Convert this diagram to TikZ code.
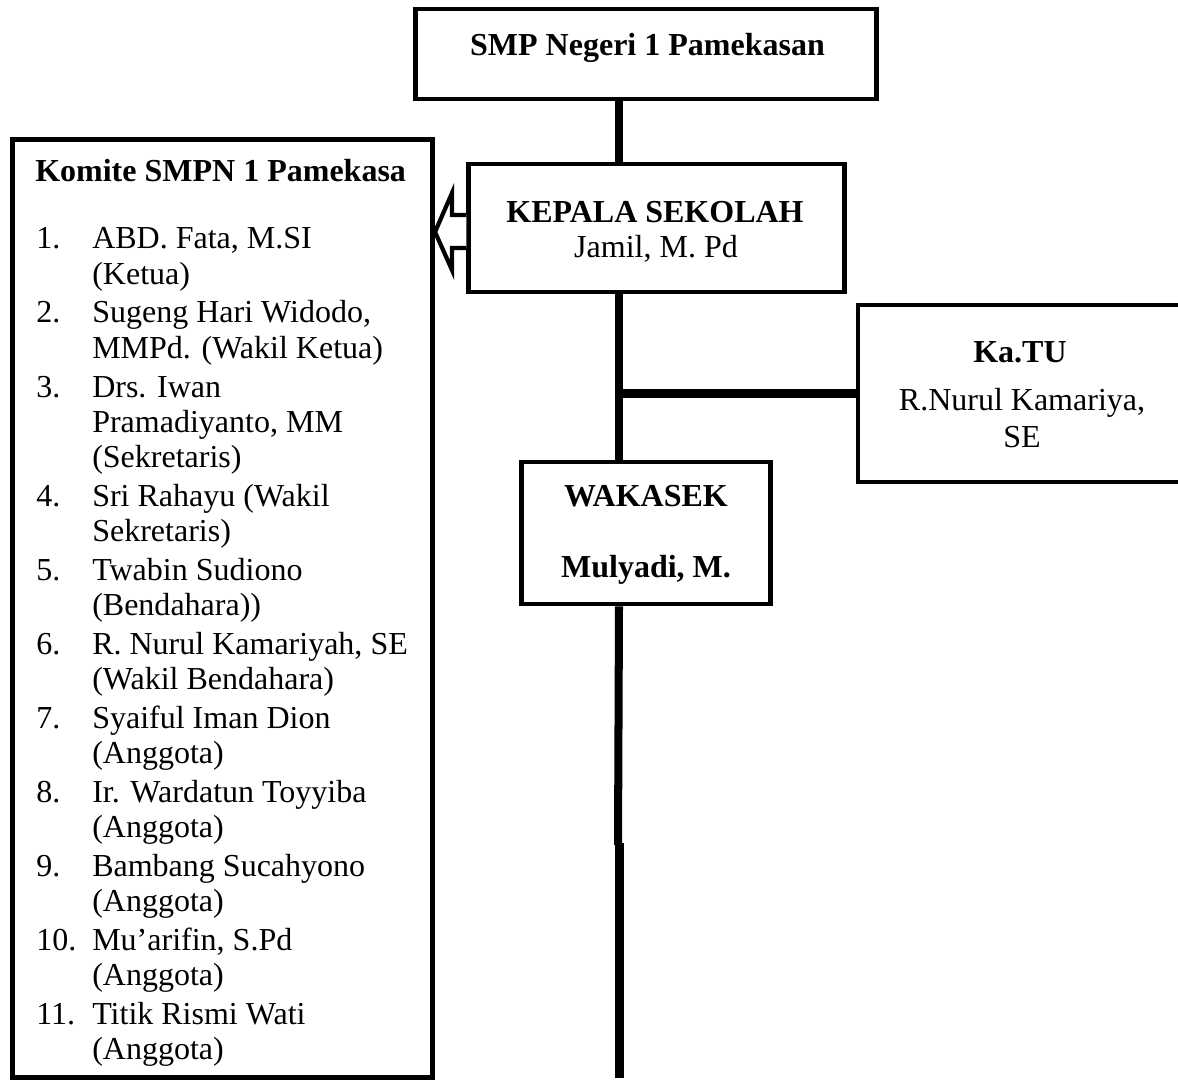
\documentclass[tikz,border=0pt]{standalone}
\usepackage{fontspec}
\setmainfont{Liberation Serif}
\usetikzlibrary{calc}
\tikzset{
  box/.style={draw, line width=3.5pt, inner sep=0pt},
  conn/.style={line width=5.7pt},
  hollow/.style={draw, line width=3pt, fill=white, line join=miter},
  txt/.style={inner sep=0pt, font=\fontsize{22.76}{27}\selectfont},
  txtb/.style={txt, font=\fontsize{22.76}{27}\selectfont\bfseries}
}
\begin{document}
\begin{tikzpicture}[x=0.025cm, y=-0.025cm]
\useasboundingbox (0,0) rectangle (1178,1083);
\clip (0,0) rectangle (1178,1083);
% boxes
\node[box, minimum width=11.54cm, minimum height=2.25cm] (sekolah) at (646,54) {};
\node[box, minimum width=10.5cm, minimum height=23.44cm] (komite) at (222.5,608.25) {};
\node[box, minimum width=9.375cm, minimum height=3.2cm] (kepala) at (656.5,228) {};
\node[box, minimum width=8.125cm, minimum height=4.425cm] (katu) at (1020.5,393.5) {};
\node[box, minimum width=6.21cm, minimum height=3.55cm] (wakasek) at (646,533) {};
% texts
\node[txtb, anchor=base] (sekolahT) at (647.5,56) {SMP Negeri 1 Pamekasan};
\node[txtb, anchor=base] (kepalaT) at (655,223) {KEPALA SEKOLAH};
\node[txt, anchor=base] (kepalaN) at (656,258) {Jamil, M. Pd};
\node[txtb, anchor=base] (katuT) at (1020,362) {Ka.TU};
\node[txt, anchor=base] (katuN) at (1022,410) {R.Nurul Kamariya,};
\node[txt, anchor=base] (katuS) at (1022,447) {SE};
\node[txtb, anchor=base] (wakasekT) at (646,506) {WAKASEK};
\node[txtb, anchor=base] (wakasekN) at (646,577) {Mulyadi, M.};
\node[txtb, anchor=base west] (komiteT) at (35,182) {Komite SMPN 1 Pamekasa};
\gdef\ypos{210.3}
\foreach \n/\t [count=\k from 0] in {
  {1.}/{ABD. Fata, M.SI}, {}/{(Ketua)},
  {2.}/{Sugeng Hari Widodo,}, {}/{MMPd. (Wakil Ketua)},
  {3.}/{Drs. Iwan}, {}/{Pramadiyanto, MM}, {}/{(Sekretaris)},
  {4.}/{Sri Rahayu (Wakil}, {}/{Sekretaris)},
  {5.}/{Twabin Sudiono}, {}/{(Bendahara))},
  {6.}/{R. Nurul Kamariyah, SE}, {}/{(Wakil Bendahara)},
  {7.}/{Syaiful Iman Dion}, {}/{(Anggota)},
  {8.}/{Ir. Wardatun Toyyiba}, {}/{(Anggota)},
  {9.}/{Bambang Sucahyono}, {}/{(Anggota)},
  {10.}/{Mu’arifin, S.Pd}, {}/{(Anggota)},
  {11.}/{Titik Rismi Wati}, {}/{(Anggota)}}
{
  % a new item sits a little lower than a wrapped line
  \ifx\n\empty \pgfmathsetmacro\tmp{\ypos+35.3}\else \pgfmathsetmacro\tmp{\ypos+38.7}\fi
  \xdef\ypos{\tmp}
  \node[txt, anchor=base west] (num\k) at (36,\ypos) {\n};
  \node[txt, anchor=base west] (line\k) at (92,\ypos) {\t};
}
% connectors
\coordinate (spine) at (619,0);
\coordinate (brk) at (618,845);
\coordinate (brk2) at (619.5,843);
\coordinate (spineend) at (619.5,1078);
\draw[conn] (spine |- sekolah.south) -- (spine |- kepala.north);
\draw[conn] (spine |- kepala.south) -- (spine |- wakasek.north);
\draw[conn] (spine |- katu.west) -- (katu.west);
\draw[conn] (spine |- wakasek.south) -- (brk);
\draw[conn] (brk2) -- (spineend);
% arrow to komite
\coordinate (tip) at (komite.east |- 0,232);
\draw[hollow] (kepala.west |- 0,215) -- (452,215) -- (452,193) -- (tip)
  -- (452,270) -- (452,248) -- (kepala.west |- 0,248);
\end{tikzpicture}
\end{document}
